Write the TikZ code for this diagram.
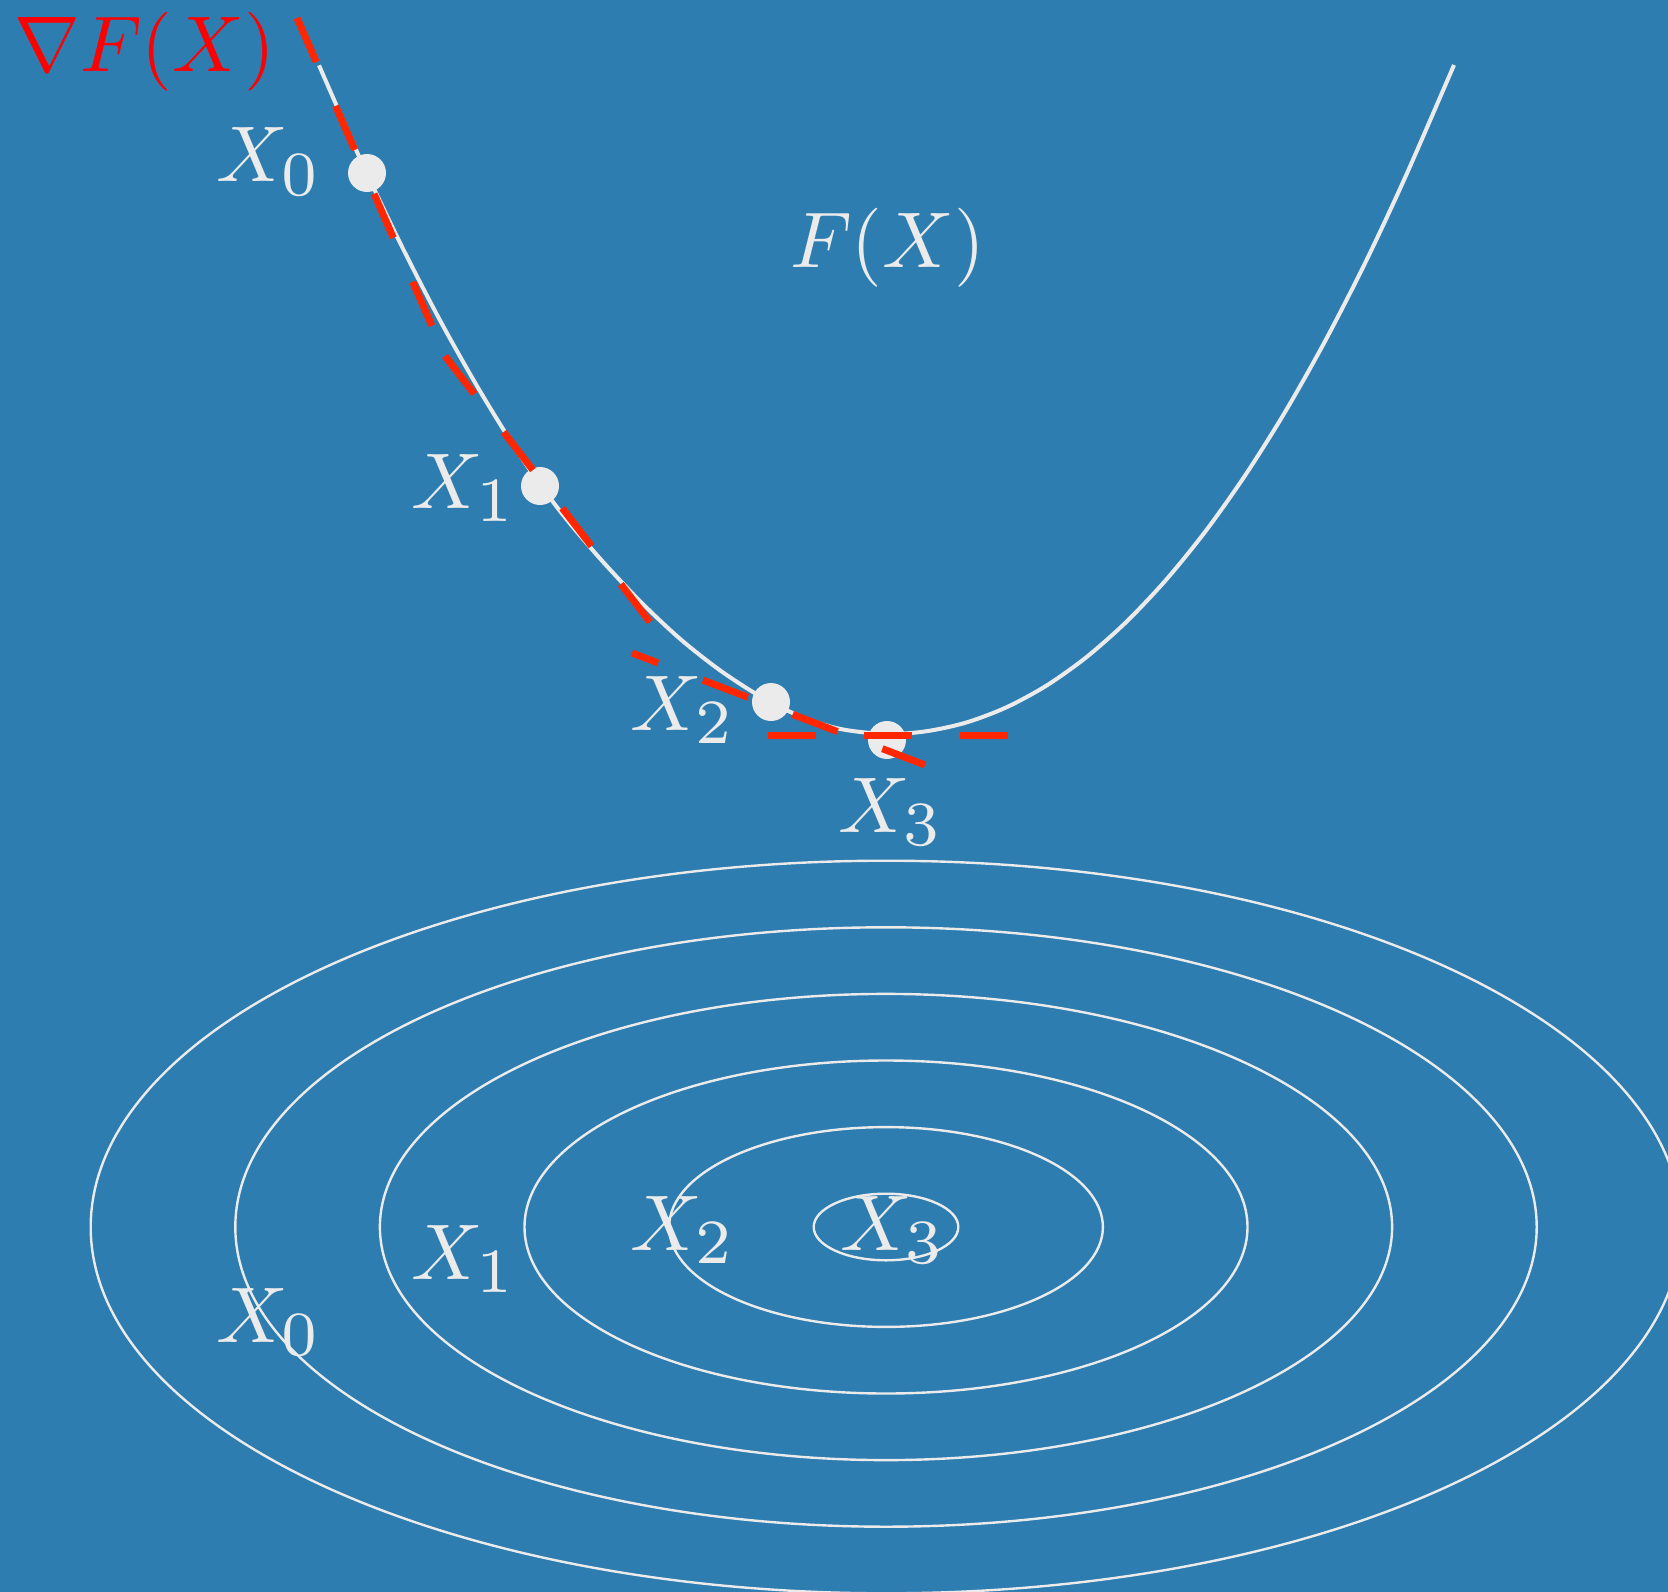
\RequirePackage{fix-cm}
\documentclass[tikz,border=0pt]{standalone}
\DeclareFontShape{OML}{cmm}{m}{it}{<->cmmi10}{}
\DeclareFontShape{OMS}{cmsy}{m}{n}{<->cmsy10}{}
\DeclareFontShape{OT1}{cmr}{m}{n}{<-66>cmr7 <66->cmr10}{}
\DeclareMathSizes{79}{79}{63}{50}
\definecolor{bgblue}{RGB}{46,125,176}
\definecolor{chalk}{RGB}{235,235,235}
\definecolor{dashred}{RGB}{255,38,0}
\definecolor{labelred}{RGB}{255,0,0}
\begin{document}
\begin{tikzpicture}[x=1pt,y=-1pt,
  lbl/.style={anchor=base west, inner sep=0pt, text=chalk, font=\fontsize{79}{95}\selectfont},
  tangent/.style={draw=dashred, line width=7pt, dash pattern=on 48pt off 48pt},
  dot/.style={circle, fill=chalk, minimum size=38pt, inner sep=0pt},
  contour/.style={draw=chalk, line width=2.4pt},
  curve/.style={draw=chalk, line width=4pt}]
\useasboundingbox (0,0) rectangle (1668,1592);
\clip (0,0) rectangle (1668,1592);
\fill[bgblue] (0,0) rectangle (1668,1592);
% contour ellipses
\foreach \k in {1,...,6}{
  \draw[contour] (886,1227) ellipse [x radius={72.3*(2*\k-1)}, y radius={33.3*(2*\k-1)}];
}
% function curve
\draw[curve] plot[smooth] coordinates {
  (319,65.3) (360,158.5) (400,242.7) (440,320.3) (480,391.1) (520,455.4)
  (560,511.1) (600,558.5) (640,601.2) (680,638.8) (720,670.3) (760,696.2)
  (800,716.2) (840,728.9) (886,734)
  (926,731.3) (966,722.6) (1006,707.5) (1046,685.9) (1086,657.5) (1126,622.2)
  (1166,579.9) (1206,530.6) (1246,474.1) (1286,410.4) (1326,339.4) (1366,261.2)
  (1406,175.5) (1454,65)};
% iterate dots
\node[dot] (d0) at (367,173) {};
\node[dot] (d1) at (540,486) {};
\node[dot] (d2) at (771,702) {};
\node[dot] (d3) at (887,740) {};
% tangent lines
\coordinate (t0a) at (297,18);  \coordinate (t0b) at (432,326);
\coordinate (t1a) at (445,356); \coordinate (t1b) at (650,622);
\coordinate (t2a) at (632,653); \coordinate (t2b) at (925,765);
\coordinate (t3a) at (768,735); \coordinate (t3b) at (1008,735);
\draw[tangent] (t0a) -- (t0b);
\draw[tangent] (t1a) -- (t1b);
\draw[tangent, dash phase=20pt] (t2a) -- (t2b);
\draw[tangent] (t3a) -- (t3b);
% labels
\node[lbl, text=labelred] (grad) at (14,72) {$\nabla F(X)$};
\node[lbl] (fx) at (790,267) {$F(X)$};
\node[lbl] (a0) at (216,182) {$X_0$};
\node[lbl] (a1) at (411,508) {$X_1$};
\node[lbl] (a2) at (630,730) {$X_2$};
\node[lbl] (a3) at (838,832) {$X_3$};
\node[lbl] (b0) at (216,1342) {$X_0$};
\node[lbl] (b1) at (411,1279) {$X_1$};
\node[lbl] (b2) at (630,1250) {$X_2$};
\node[lbl] (b3) at (840,1250) {$X_3$};
\end{tikzpicture}
\end{document}
